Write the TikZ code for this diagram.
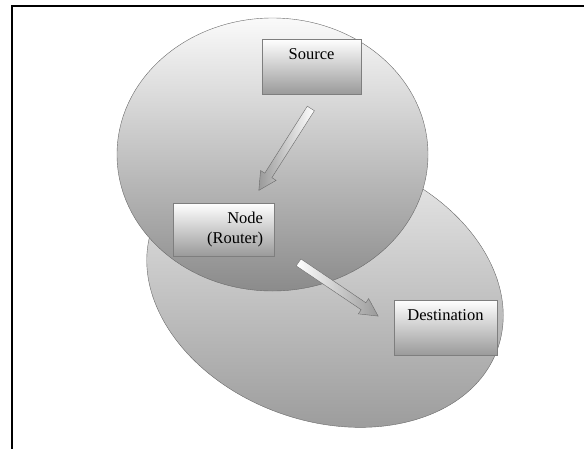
\documentclass[tikz,border=0pt]{standalone}
\usepackage{fontspec}
\setmainfont{Liberation Serif}
\usepackage{xcolor}
\usetikzlibrary{shapes.arrows}
\definecolor{netEdge}{HTML}{6A6A6A}
\definecolor{netDark}{HTML}{979797}
\definecolor{netLight}{HTML}{FAFAFA}
\definecolor{boxEdge}{HTML}{7E7E7E}
\definecolor{boxDark}{HTML}{9A9A9A}

\begin{document}
\begin{tikzpicture}[x=1pt,y=-1pt,font=\fontsize{16.5}{20}\selectfont,
    hostbox/.style={draw=boxEdge,top color=white,bottom color=boxDark,
                    inner sep=0pt,minimum height=55pt},
    flowarrow/.style={single arrow,draw=netEdge,inner sep=4pt,
                      single arrow head extend=5pt,
                      single arrow tip angle=55,minimum height=97pt}]
  \useasboundingbox (0,0) rectangle (584,448);
  \clip (0,0) rectangle (584,448);
  \draw[line width=1.5pt] (12,460) -- (12,6) -- (600,6);
  \shade[draw=netEdge,top color=netLight!92!netDark,bottom color=netDark,
         rotate around={-19.3:(325,288)}] (325,288) ellipse [x radius=183,y radius=133];
  \shade[draw=netEdge,top color=netLight,bottom color=netDark!92!black]
         (272.5,154.5) ellipse [x radius=155.5,y radius=136.5];
  \node[hostbox,minimum width=99pt,text depth=24pt] (src) at (311.5,66.5) {Source};
  \node[hostbox,minimum width=101pt,minimum height=53pt,text width=79pt,
        align=right] (rtr) at (223.5,229.5) {Node\\(Router)};
  \node[hostbox,minimum width=103pt,text depth=24pt] (dst) at (445.5,327.5) {Destination};
  \node[flowarrow,rotate=237.6,left color=boxDark,right color=white] (hop1) at (287,146) {};
  \node[flowarrow,rotate=-34,minimum height=96pt,left color=white,right color=boxDark]
       (hop2) at (335,287) {};
\end{tikzpicture}
\end{document}
